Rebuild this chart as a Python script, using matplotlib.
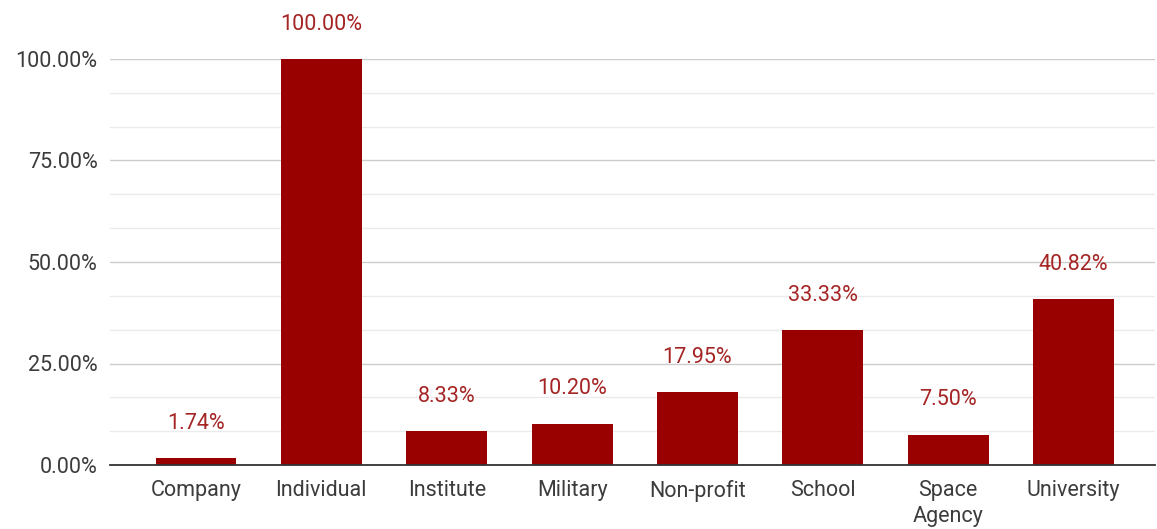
import matplotlib.pyplot as plt
from matplotlib.ticker import MultipleLocator, PercentFormatter

plt.rcParams['font.family'] = ['Roboto', 'DejaVu Sans']

categories = ['Company', 'Individual', 'Institute', 'Military', 'Non-profit',
              'School', 'Space\nAgency', 'University']
shares = [1.74, 100.00, 8.33, 10.20, 17.95, 33.33, 7.50, 40.82]

bar_color = '#990000'
label_color = '#a52424'
text_color = '#3c3c3c'

W, H = 1157, 529
fig = plt.figure(figsize=(W / 100, H / 100), dpi=100)
ax = fig.add_axes([110 / W, 1 - 465 / H, (1155 - 110) / W, (465 - 59) / H])

x = range(len(categories))
bars = ax.bar(x, shares, width=0.645, color=bar_color, zorder=3)

for rect, v in zip(bars, shares):
    ax.annotate(f'{v:.2f}%', xy=(rect.get_x() + rect.get_width() / 2, v),
                xytext=(0, 21), textcoords='offset points',
                ha='center', va='baseline', fontsize=15.5,
                color=label_color, annotation_clip=False)

ax.set_xlim(-0.686, 7.65)
ax.set_ylim(0, 100)
ax.yaxis.set_major_locator(MultipleLocator(25))
ax.yaxis.set_minor_locator(MultipleLocator(25 / 3))
ax.yaxis.set_major_formatter(PercentFormatter(decimals=2))

ax.grid(axis='y', which='major', color='#cccccc', linewidth=1, zorder=0)
ax.grid(axis='y', which='minor', color='#ebebeb', linewidth=1, zorder=0)

ax.set_xticks(list(x))
ax.set_xticklabels(categories, fontsize=15.5, color=text_color, linespacing=1.3)
ax.tick_params(axis='x', length=0, pad=11)
ax.tick_params(axis='y', which='both', length=0, pad=9,
               labelsize=15.5, labelcolor=text_color)

for side in ['top', 'right', 'left']:
    ax.spines[side].set_visible(False)
ax.spines['bottom'].set_color('#333333')
ax.spines['bottom'].set_linewidth(1.3)
ax.spines['bottom'].set_zorder(4)

fig.savefig('out.png', dpi=100)
